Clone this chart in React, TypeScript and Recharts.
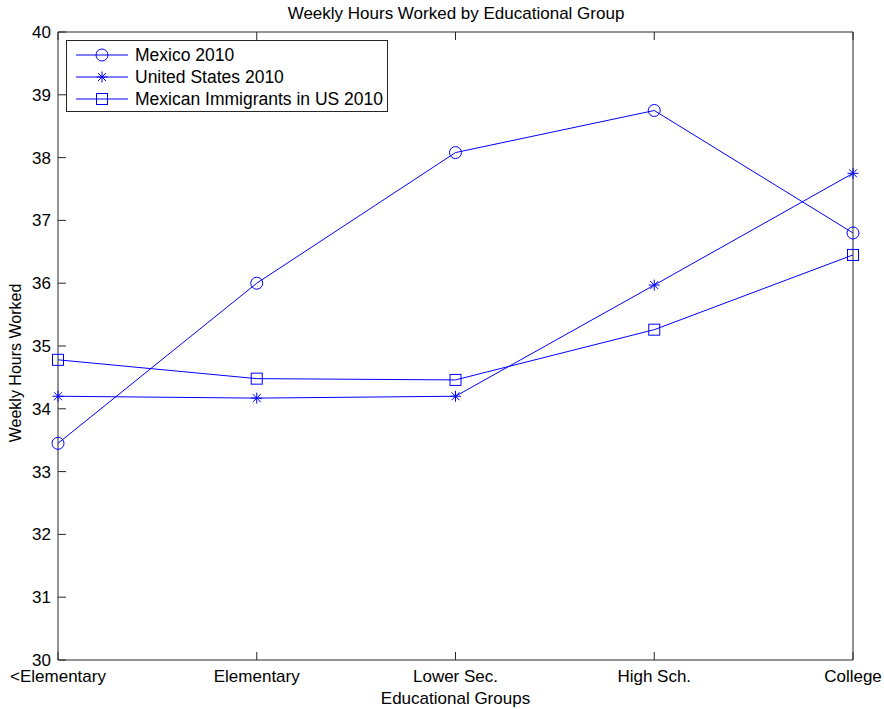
import React from 'react';
import { LineChart, Line, XAxis, YAxis, Legend } from 'recharts';

const categories = ['<Elementary', 'Elementary', 'Lower Sec.', 'High Sch.', 'College'];
const mexico2010 = [33.45, 36.0, 38.08, 38.75, 36.8];
const unitedStates2010 = [34.2, 34.17, 34.2, 35.97, 37.75];
const immigrants2010 = [34.78, 34.48, 34.46, 35.26, 36.45];
const yTicks = [30, 31, 32, 33, 34, 35, 36, 37, 38, 39, 40];

const BLUE = '#0000ff';
const AXIS = '#262626';
const FONT = 'Arial, "Liberation Sans", Helvetica, sans-serif';

const data = categories.map((name, i) => ({
  name,
  mexico: mexico2010[i],
  us: unitedStates2010[i],
  immigrants: immigrants2010[i],
}));

type MarkerKind = 'circle' | 'star' | 'square';

function Marker({ cx, cy, kind }: { cx: number; cy: number; kind: MarkerKind }) {
  if (cx == null || cy == null) return null;
  if (kind === 'circle') {
    return <circle cx={cx} cy={cy} r={6} fill="none" stroke={BLUE} strokeWidth={1} />;
  }
  if (kind === 'square') {
    return <rect x={cx - 5.5} y={cy - 5.5} width={11} height={11} fill="none" stroke={BLUE} strokeWidth={1} />;
  }
  const s = 5.5;
  const d = 4;
  return (
    <g stroke={BLUE} strokeWidth={1}>
      <line x1={cx} y1={cy - s} x2={cx} y2={cy + s} />
      <line x1={cx - s} y1={cy} x2={cx + s} y2={cy} />
      <line x1={cx - d} y1={cy - d} x2={cx + d} y2={cy + d} />
      <line x1={cx - d} y1={cy + d} x2={cx + d} y2={cy - d} />
    </g>
  );
}

// MATLAB style: ticks point into the plot box
const BottomTick = ({ x, y, payload }: any) => (
  <g>
    <line x1={x} y1={y} x2={x} y2={y - 8} stroke={AXIS} />
    <text x={x} y={y + 22} textAnchor="middle" fontSize={17} fontFamily={FONT} fill="#000">
      {payload.value}
    </text>
  </g>
);
const TopTick = ({ x, y }: any) => <line x1={x} y1={y} x2={x} y2={y + 8} stroke={AXIS} />;
const LeftTick = ({ x, y, payload }: any) => (
  <g>
    <line x1={x} y1={y} x2={x + 8} y2={y} stroke={AXIS} />
    <text x={x - 7} y={y + 6} textAnchor="end" fontSize={17} fontFamily={FONT} fill="#000">
      {payload.value}
    </text>
  </g>
);
const RightTick = ({ x, y }: any) => <line x1={x} y1={y} x2={x - 8} y2={y} stroke={AXIS} />;

const legendItems: { label: string; kind: MarkerKind }[] = [
  { label: 'Mexico 2010', kind: 'circle' },
  { label: 'United States 2010', kind: 'star' },
  { label: 'Mexican Immigrants in US 2010', kind: 'square' },
];

const LegendBox = () => (
  <div
    style={{
      width: 320,
      height: 70,
      border: `1px solid ${AXIS}`,
      background: '#fff',
      fontFamily: FONT,
      fontSize: 17.5,
      boxSizing: 'content-box',
    }}
  >
    {legendItems.map((item, i) => (
      <div key={item.label} style={{ position: 'absolute', left: 10, top: 4 + i * 22, height: 22, display: 'flex', alignItems: 'center' }}>
        <svg width={52} height={22} style={{ display: 'block' }}>
          <line x1={0} y1={11} x2={52} y2={11} stroke={BLUE} strokeWidth={1} />
          <Marker cx={26} cy={11} kind={item.kind} />
        </svg>
        <span style={{ marginLeft: 7, whiteSpace: 'nowrap', color: '#000' }}>{item.label}</span>
      </div>
    ))}
  </div>
);

export default function App() {
  return (
    <div style={{ position: 'absolute', left: 0, top: 0, width: 884, height: 709, background: '#fff' }}>
      <LineChart width={884} height={709} data={data} margin={{ top: 0, right: 0, bottom: 0, left: 0 }}>
        <text x={456} y={19} textAnchor="middle" fontSize={17} fontFamily={FONT} fill="#000">
          Weekly Hours Worked by Educational Group
        </text>
        <text
          x={21}
          y={363}
          transform="rotate(-90 21 363)"
          textAnchor="middle"
          fontSize={16}
          fontFamily={FONT}
          fill="#000"
        >
          Weekly Hours Worked
        </text>
        <XAxis
          dataKey="name"
          height={49}
          stroke={AXIS}
          tickLine={false}
          tickSize={0}
          tickMargin={0}
          interval={0}
          tick={<BottomTick />}
          label={{ value: 'Educational Groups', position: 'insideBottom', offset: 5, fontSize: 17, fontFamily: FONT, fill: '#000' }}
        />
        <XAxis xAxisId="top" dataKey="name" orientation="top" height={32} stroke={AXIS} tickLine={false} tickSize={0} tickMargin={0} interval={0} tick={<TopTick />} />
        <YAxis
          domain={[30, 40]}
          ticks={yTicks}
          width={58}
          stroke={AXIS}
          tickLine={false}
          tickSize={0}
          tickMargin={0}
          interval={0}
          tick={<LeftTick />}
        />
        <YAxis yAxisId="right" orientation="right" domain={[30, 40]} ticks={yTicks} width={31} stroke={AXIS} tickLine={false} tickSize={0} tickMargin={0} interval={0} tick={<RightTick />} />
        <Legend
          layout="vertical"
          align="center"
          verticalAlign="middle"
          wrapperStyle={{ left: 66, top: 40, width: 322, height: 72 }}
          content={<LegendBox />}
        />
        <Line dataKey="mexico" name="Mexico 2010" stroke={BLUE} strokeWidth={1} isAnimationActive={false} dot={(p: any) => <Marker key={p.index} cx={p.cx} cy={p.cy} kind="circle" />} />
        <Line dataKey="us" name="United States 2010" stroke={BLUE} strokeWidth={1} isAnimationActive={false} dot={(p: any) => <Marker key={p.index} cx={p.cx} cy={p.cy} kind="star" />} />
        <Line dataKey="immigrants" name="Mexican Immigrants in US 2010" stroke={BLUE} strokeWidth={1} isAnimationActive={false} dot={(p: any) => <Marker key={p.index} cx={p.cx} cy={p.cy} kind="square" />} />
      </LineChart>
    </div>
  );
}
